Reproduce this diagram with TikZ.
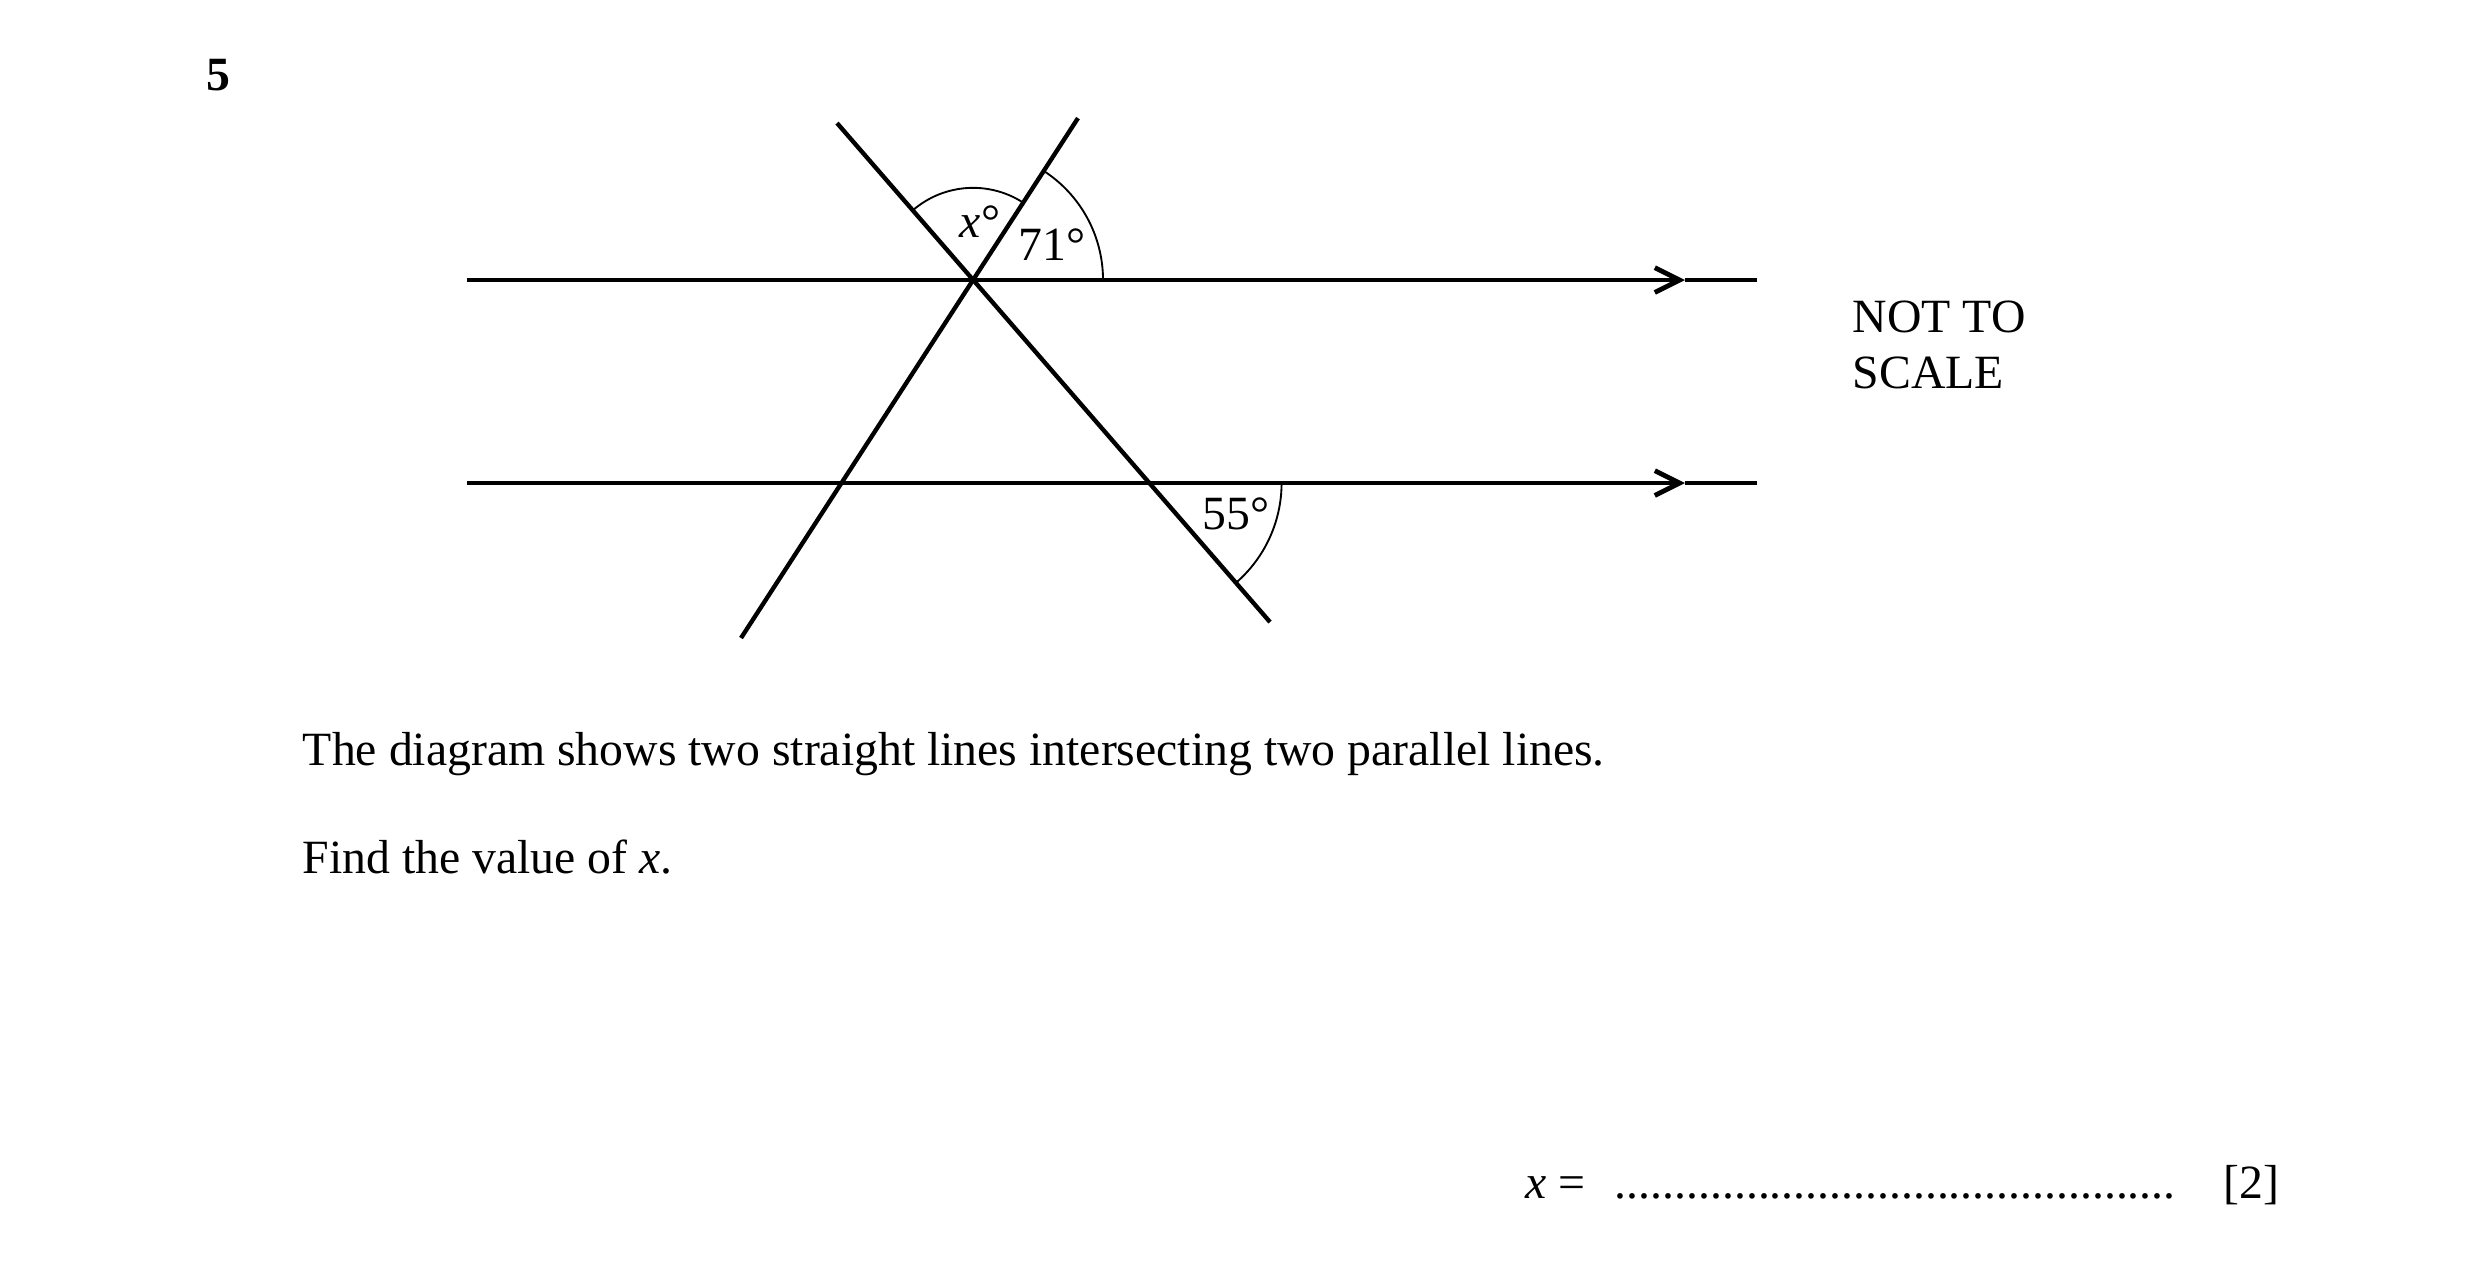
\documentclass[tikz,border=0pt]{standalone}
\usepackage{fontspec}
\setmainfont{Liberation Serif}
\usetikzlibrary{arrows.meta}

\tikzset{
	parline/.style={line width=1.15pt},
	crossline/.style={line width=1.05pt},
	anglearc/.style={line width=0.45pt},
	parhead/.style={-{Straight Barb[length=2.1mm,width=2.1mm]}},
	txt/.style={inner sep=0pt, font=\fontsize{11.5}{13.4}\selectfont},
}

\begin{document}
\begin{tikzpicture}[]
	%\draw[help lines] (0,0) grid (21,10);
	\useasboundingbox (0,0) rectangle (21.006,10.694);
	\node[txt, font=\fontsize{11.5}{13.4}\selectfont\bfseries] (qnum) at (1.846,10.058) {5};
	% parallel lines
	\coordinate (ua) at (3.954,8.323);
	\coordinate (ut) at (14.266,8.323);
	\coordinate (ub) at (14.876,8.323);
	\coordinate (la) at (3.954,6.604);
	\coordinate (lt) at (14.266,6.604);
	\coordinate (lb) at (14.876,6.604);
	\draw[parline, parhead] (ua)--(ut);
	\draw[parline] (ut)--(ub);
	\draw[parline, parhead] (la)--(lt);
	\draw[parline] (lt)--(lb);
	% the two crossing lines
	\coordinate (p1) at (9.127,9.694);
	\coordinate (p2) at (6.274,5.292);
	\coordinate (q1) at (7.087,9.652);
	\coordinate (q2) at (10.753,5.427);
	\draw[crossline] (p1)--(p2);
	\draw[crossline] (q1)--(q2);
	\coordinate (P) at (intersection of p1--p2 and ua--ub);
	\coordinate (R) at (intersection of q1--q2 and la--lb);
	% angles
	\draw[anglearc] (P) ++(1.10,0) arc[start angle=0, end angle=57.05, radius=1.10];
	\draw[anglearc] (P) ++(57.05:0.78) arc[start angle=57.05, end angle=130.9, radius=0.78];
	\draw[anglearc] (R) ++(1.118,0) arc[start angle=0, end angle=-49.1, radius=1.118];
	\node[txt, anchor=base] (angx) at (8.297,8.687) {\textit{x}°};
	\node[txt, anchor=base] (ang71) at (8.907,8.492) {71°};
	\node[txt, anchor=base] (ang55) at (10.465,6.215) {55°};
	\node[txt, anchor=north west, align=left] (nts) at (15.680,8.153) {NOT TO\\SCALE};
	% question text
	\node[txt, anchor=base west] (line1) at (2.557,4.216) {The diagram shows two straight lines intersecting two parallel lines.};
	\node[txt, anchor=base west] (line2) at (2.557,3.302) {Find the value of \textit{x}.};
	\node[txt, anchor=base west] (xeq) at (12.912,0.550) {\textit{x} =};
	\node[txt, anchor=base west] (dots) at (13.665,0.550) {...............................................};
	\node[txt, anchor=base west] (mark) at (18.822,0.550) {[2]};
\end{tikzpicture}
\end{document}
